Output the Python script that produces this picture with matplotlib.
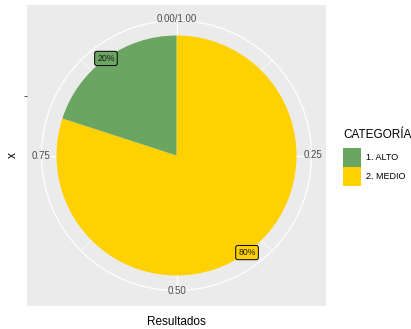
import matplotlib.pyplot as plt
import numpy as np
from matplotlib.patches import Patch, Circle

plt.rcParams["font.family"] = ["Liberation Sans", "DejaVu Sans"]

# -----------------------
# DATA
# -----------------------
categories = ["1. ALTO", "2. MEDIO"]
shares = [20, 80]
colors = ["#6BA562", "#FFD100"]
theta_breaks = [0.0, 0.25, 0.5, 0.75]
theta_labels = ["0.00/1.00", "0.25", "0.50", "0.75"]

W, H = 411, 329
fig = plt.figure(figsize=(W / 100, H / 100), dpi=100)
# panel in pixel coordinates
px0, px1, py0, py1 = 27, 326, 5, 306
ax = fig.add_axes([px0 / W, 1 - py1 / H, (px1 - px0) / W, (py1 - py0) / H])
ax.set_facecolor("#EBEBEB")
for s in ax.spines.values():
    s.set_visible(False)

cx, cy = 176.5, H - 155.5
r_pie = 120
r_out = 135

# grid: radial lines (major + minor) and outer circle
for k in range(8):
    t = k / 8
    ang = np.pi / 2 - 2 * np.pi * t
    lw = 0.9 if k % 2 == 0 else 0.45
    ax.plot([cx, cx + r_out * np.cos(ang)], [cy, cy + r_out * np.sin(ang)],
            color="white", lw=lw, zorder=1)
ax.add_patch(Circle((cx, cy), r_out, fill=False, ec="white", lw=0.9, zorder=1))

# pie: stacked reversed like ggplot (MEDIO first from top clockwise)
order = list(range(len(categories)))[::-1]
ax.pie([shares[i] for i in order], colors=[colors[i] for i in order],
       startangle=90, counterclock=False, center=(cx, cy), radius=r_pie,
       wedgeprops=dict(linewidth=0, zorder=2), frame=True)
ax.set_xlim(px0, px1)
ax.set_ylim(H - py1, H - py0)
ax.set_aspect("auto")

# percentage labels
total = sum(shares)
cum = 0
for i in order:
    mid = (cum + shares[i] / 2) / total
    cum += shares[i]
    ang = np.pi / 2 - 2 * np.pi * mid
    ax.text(cx + r_pie * np.cos(ang), cy + r_pie * np.sin(ang), f"{shares[i]}%",
            ha="center", va="center", fontsize=6.3, color="#1a1a1a", zorder=4,
            bbox=dict(boxstyle="round,pad=0.3,rounding_size=0.25",
                      fc=colors[i], ec="black", lw=0.7))

# theta axis labels
for t, lab in zip(theta_breaks, theta_labels):
    ang = np.pi / 2 - 2 * np.pi * t
    ax.text(cx + (r_out + 1) * np.cos(ang), cy + (r_out + 1) * np.sin(ang), lab,
            ha="center", va="center", fontsize=7, color="#4D4D4D", zorder=3)

# r axis tick and titles
ax.set_xticks([])
ax.set_yticks([cy + 60])
ax.set_yticklabels([""])
ax.tick_params(axis="y", length=2.5, width=0.6, color="#333333")
ax.set_ylabel("x", fontsize=8.5, va="center")
ax.yaxis.set_label_coords((13 - px0) / (px1 - px0), 0.5)
ax.set_xlabel("Resultados", fontsize=8.5, va="center")
ax.xaxis.set_label_coords(0.5, -(322 - py1) / (py1 - py0))

handles = [Patch(facecolor=c, edgecolor="none") for c in colors]
leg = fig.legend(handles, categories, title="CATEGORÍA", loc="upper left",
                 bbox_to_anchor=(337 / W, 1 - 123 / H), frameon=False,
                 fontsize=6.5, title_fontsize=8.5, handlelength=2.0,
                 handleheight=2.8, labelspacing=0.0, handletextpad=0.5,
                 borderpad=0.2)
leg._legend_box.align = "left"
leg._legend_box.sep = 5

fig.savefig("out.png", dpi=100)
